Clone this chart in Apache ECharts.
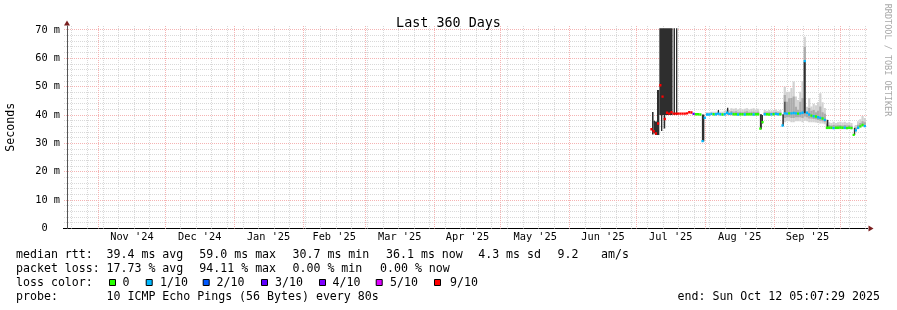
<!DOCTYPE html>
<html><head><meta charset="utf-8">
<script src="https://cdn.jsdelivr.net/npm/echarts@6/dist/echarts.min.js"></script>
<style>html,body{margin:0;padding:0;background:#fff}#c{width:897px;height:310px}</style>
</head><body><div id="c"></div>
<script>
// ---- time frame: 360-day window, day 0 = window start ----
const START = Date.UTC(2024, 9, 17, 19, 0);
const DAY = 86400000;
const WINDOW_DAYS = 360;
const Y_MAX = 71.4; // ms

// ---- samples (one per day, starting at firstDay) ----
const firstDay = 263;
const median = [
 35.0,34.3,33.5,37.0,50.5,46.5,38.6,40.8,40.5,41.0,
 40.5,40.5,40.5,40.5,40.5,40.5,40.6,41.0,40.9,40.4,
 40.3,40.3,40.2,30.8,39.0,40.2,40.2,40.4,40.3,40.3,
 40.5,40.3,40.2,40.3,40.8,40.4,40.5,40.3,40.3,40.2,
 40.3,40.3,40.2,40.3,40.3,40.3,40.2,40.3,40.3,35.2,
 37.5,40.3,40.3,40.2,40.3,40.3,40.4,40.3,40.3,36.3,
 40.6,40.5,40.6,40.6,40.7,40.6,40.5,40.6,40.8,59.0,
 40.8,40.2,39.8,39.6,39.5,39.2,39.0,38.8,38.3,35.5,
 35.5,35.5,35.4,35.5,35.5,35.6,35.5,35.5,35.4,35.5,
 35.4,33.0,34.6,35.5,36.0,36.5,36.1
];
// loss class index into lossColors
const lossIdx = [
 6,6,6,6,6,6,6,6,6,6,
 6,6,6,6,6,6,6,6,6,3,
 0,0,0,1,1,1,1,1,0,1,
 1,1,0,1,1,1,1,0,0,1,
 0,0,1,0,0,0,1,0,0,0,
 0,1,0,0,1,0,1,1,0,1,
 1,1,0,1,1,1,0,1,1,1,
 1,1,0,1,0,1,1,0,1,0,
 0,0,1,0,0,0,0,1,0,0,
 0,0,1,1,0,0,1
];
const N = null;
const smokeLo = [
 N,N,N,N,N,N,N,N,N,N, N,N,N,N,N,N,N,N,N,N,
 N,N,N,N,N,39.9,39.9,39.9,39.9,39.9,
 39.9,39.9,39.9,39.9,39.9,39.9,39.8,39.8,39.8,39.8,
 39.8,39.8,39.8,39.8,39.8,39.8,39.8,39.8,39.8,N,
 N,39.8,39.8,39.8,39.8,39.8,39.8,39.8,39.8,N,
 37.5,37.8,37.8,37.5,37.5,37.8,37.8,37.8,37.5,38.0,
 37.8,37.5,37.5,37.5,37.4,37.2,37.0,37.0,36.8,35.0,
 35.0,35.0,35.0,35.0,35.0,35.0,35.0,35.0,35.0,35.0,
 35.0,N,34.2,35.0,35.5,36.0,35.8
];
const smokeHi = [
 N,N,N,N,N,N,N,N,N,N, N,N,N,N,N,N,N,N,N,N,
 N,N,N,N,N,41.0,41.0,41.2,41.2,41.2,
 41.5,41.2,41.2,41.5,42.0,41.8,42.4,42.2,42.4,42.0,
 42.4,42.0,42.2,42.4,42.0,42.2,42.4,42.0,42.2,N,
 N,41.8,41.5,41.8,41.5,41.8,42.0,41.5,41.8,N,
 50.0,48.2,48.2,49.5,51.8,46.5,45.3,48.2,52.0,67.6,
 42.9,45.9,43.0,44.0,43.5,44.5,47.7,44.5,42.5,38.5,
 37.5,37.2,37.6,37.2,37.5,37.6,37.4,37.6,37.3,37.5,
 37.2,N,36.5,37.8,38.5,39.7,39.0
];
const coreLo = [
 N,N,N,N,N,N,N,N,N,N, N,N,N,N,N,N,N,N,N,N,
 N,N,N,N,N,N,N,N,N,N, N,N,N,N,N,N,40.0,40.0,40.0,40.0,
 40.0,40.0,40.0,40.0,40.0,40.0,40.0,40.0,40.0,N,
 N,40.0,40.0,40.0,40.0,40.0,40.0,40.0,40.0,N,
 39.0,39.2,39.2,39.0,39.0,39.2,39.2,39.2,39.0,39.5,
 39.2,38.8,38.8,38.6,38.5,38.3,38.0,37.8,37.5,35.2,
 35.2,35.2,35.2,35.2,35.2,35.2,35.2,35.2,35.2,35.2,
 35.2,N,34.4,35.2,35.8,36.3,36.0
];
const coreHi = [
 N,N,N,N,N,N,N,N,N,N, N,N,N,N,N,N,N,N,N,N,
 N,N,N,N,N,N,N,N,N,N, N,N,N,N,N,N,41.4,41.2,41.3,41.0,
 41.2,41.0,41.2,41.3,41.0,41.2,41.2,41.0,41.2,N,
 N,41.0,40.9,41.0,40.9,41.0,41.1,40.9,41.0,N,
 47.1,44.7,45.9,46.0,46.5,42.9,41.9,44.7,46.0,64.1,
 41.2,42.5,41.5,41.8,41.0,41.5,43.0,41.0,40.5,37.0,
 36.5,36.3,36.5,36.3,36.4,36.5,36.3,36.5,36.3,36.4,
 36.2,N,35.6,36.6,37.2,37.8,37.5
];
// dense (dark) smoke bars: start day, end day, low, high
const darkStart = [263.25,263.95,264.6,265.5,266.55,267.3,268.5,272.95,274.05,285.7,292.9,297.0,311.8,312.7,321.9,322.8,331.5,341.9,354.1];
const darkEnd   = [263.95,264.6,265.5,266.55,272.5,267.9,269.2,273.6,274.65,286.8,293.4,297.6,312.7,313.2,322.6,323.3,332.4,342.6,354.7];
const darkLo    = [33.1,33.5,33.0,33.0,40.0,34.4,35.3,40.0,40.0,30.7,40.3,40.3,35.0,37.0,36.1,40.6,40.6,35.5,33.0];
const darkHi    = [41.1,38.0,37.7,48.8,70.6,40.0,40.0,70.6,70.6,40.2,41.8,42.6,40.3,40.0,40.3,44.7,58.8,38.3,35.5];

const lossColors = ['#26ff00','#00b8ff','#0059ff','#5e00ff','#7e00ff','#dd00ff','#ff0000'];
const lossLabels = ['0','1/10','2/10','3/10','4/10','5/10','9/10'];
const yMajor = [10,20,30,40,50,60,70];
const yMinor = [2,4,6,8,12,14,16,18,22,24,26,28,32,34,36,38,42,44,46,48,52,54,56,58,62,64,66,68];
const monthLabels = ["Nov '24","Dec '24","Jan '25","Feb '25","Mar '25","Apr '25","May '25","Jun '25","Jul '25","Aug '25","Sep '25"];

// ---- derived ----
const toDay = ms => (ms - START) / DAY;
const monthStarts = [];
for (let k = 0; k < 12; k++) monthStarts.push(toDay(Date.UTC(2024, 10 + k, 1)));
const monthMids = monthLabels.map((_, i) => (monthStarts[i] + monthStarts[i + 1]) / 2);
const weekLines = [];
for (let t = toDay(Date.UTC(2024, 9, 20)); t < WINDOW_DAYS; t += 7) weekLines.push(t);

const MONO = '"DejaVu Sans Mono", monospace';

function vLine(color, dash) {
  return function (params, api) {
    const x = Math.floor(api.coord([api.value(0), 0])[0]) + 0.5;
    const cs = params.coordSys;
    return { type: 'line', shape: { x1: x, y1: cs.y, x2: x, y2: cs.y + cs.height }, style: { stroke: color, lineWidth: 1, lineDash: dash } };
  };
}
function hLine(color, dash) {
  return function (params, api) {
    const y = Math.floor(api.coord([0, api.value(1)])[1]) + 0.5;
    const cs = params.coordSys;
    return { type: 'line', shape: { x1: cs.x - 3, y1: y, x2: cs.x + cs.width, y2: y }, style: { stroke: color, lineWidth: 1, lineDash: dash } };
  };
}
function band(color) {
  return function (params, api) {
    const a = api.coord([api.value(0), api.value(3)]);
    const b = api.coord([api.value(1), api.value(2)]);
    return { type: 'rect', shape: { x: a[0], y: a[1], width: b[0] - a[0], height: b[1] - a[1] }, style: { fill: color } };
  };
}
const smokeData = [], coreData = [], medData = [], darkData = [];
median.forEach((m, i) => {
  const d = firstDay + i;
  if (smokeLo[i] != null) smokeData.push([d - 0.5, d + 0.5, smokeLo[i], smokeHi[i]]);
  if (coreLo[i] != null) coreData.push([d - 0.5, d + 0.5, coreLo[i], coreHi[i]]);
  medData.push([d - 0.5, d + 0.5, m, lossIdx[i]]);
});
darkStart.forEach((s, i) => darkData.push([s, darkEnd[i], darkLo[i], darkHi[i]]));

const chart = echarts.init(document.getElementById('c'), null, { renderer: 'canvas' });
const legendY = [254.5, 268.5, 282.5, 296.5];
const txt = (s, x, y, extra) => Object.assign({ type: 'text', x: x, y: y, silent: true, style: Object.assign({ text: s, fontFamily: MONO, fontSize: 11.6, fill: '#000', align: 'left', verticalAlign: 'middle' }, extra || {}) });
const graphics = [
  txt('median rtt:', 16, legendY[0]), txt('39.4 ms avg', 106.5, legendY[0]), txt('59.0 ms max', 199.3, legendY[0]),
  txt('30.7 ms min', 292.5, legendY[0]), txt('36.1 ms now', 386, legendY[0]), txt('4.3 ms sd', 478.2, legendY[0]),
  txt('9.2', 557.5, legendY[0]), txt('am/s', 601, legendY[0]),
  txt('packet loss:', 16, legendY[1]), txt('17.73 % avg', 106.5, legendY[1]), txt('94.11 % max', 199.3, legendY[1]),
  txt('0.00 % min', 292.5, legendY[1]), txt('0.00 % now', 380, legendY[1]),
  txt('loss color:', 16, legendY[2]),
  txt('probe:', 16, legendY[3]), txt('10 ICMP Echo Pings (56 Bytes) every 80s', 106.5, legendY[3]),
  txt('end: Sun Oct 12 05:07:29 2025', 677.5, legendY[3]),
  txt('RRDTOOL / TOBI OETIKER', 887.5, 60, { fontSize: 8.5, fill: '#a8a8a8', align: 'center' }),
  // axis arrows
  { type: 'polygon', silent: true, shape: { points: [[64, 25.5], [70, 25.5], [67, 20.5]] }, style: { fill: '#7a1f1f' } },
  { type: 'polygon', silent: true, shape: { points: [[868.5, 225.5], [868.5, 231.5], [873.5, 228.5]] }, style: { fill: '#7a1f1f' } },
  { type: 'line', silent: true, shape: { x1: 63, y1: 228.5, x2: 868, y2: 228.5 }, style: { stroke: '#000', lineWidth: 1 } }
];
graphics[17].rotation = -Math.PI / 2;
const boxX = [109, 145.7, 202.7, 261, 319, 375.7, 434];
const labX = [122.5, 160, 216.6, 275, 332.6, 390, 450];
lossColors.forEach((c, i) => {
  graphics.push({ type: 'rect', silent: true, shape: { x: boxX[i] + 0.5, y: 279.5, width: 6, height: 6 }, style: { fill: c, stroke: '#000', lineWidth: 1 } });
  graphics.push(txt(lossLabels[i], labX[i], legendY[2]));
});

chart.setOption({
  animation: false,
  backgroundColor: '#fff',
  title: { text: 'Last 360 Days', left: 'center', top: 12, textStyle: { fontFamily: MONO, fontSize: 13.4, fontWeight: 'normal', color: '#000' } },
  grid: { left: 67, right: 30, top: 26, bottom: 81.5, containLabel: false, outerBoundsMode: 'none' },
  xAxis: {
    type: 'value', min: 0, max: WINDOW_DAYS,
    axisLine: { show: false },
    axisTick: { show: false },
    splitLine: { show: false },
    axisLabel: {
      customValues: monthMids, margin: 4,
      fontFamily: MONO, fontSize: 10.3, color: '#000',
      formatter: v => { let k = 0, best = 1e9; monthMids.forEach((m, i) => { const e = Math.abs(m - v); if (e < best) { best = e; k = i; } }); return monthLabels[k]; }
    }
  },
  yAxis: {
    type: 'value', min: 0, max: Y_MAX, interval: 10,
    name: 'Seconds', nameLocation: 'middle', nameGap: 50,
    nameTextStyle: { fontFamily: MONO, fontSize: 11.6, color: '#000' },
    axisLine: { show: true, lineStyle: { color: '#555', width: 1 } },
    axisTick: { show: false },
    splitLine: { show: false },
    axisLabel: {
      margin: 7, fontFamily: MONO, fontSize: 10.3, color: '#000',
      formatter: v => (v % 10 === 0 ? (v === 0 ? '0  ' : v + ' m') : '')
    }
  },
  graphic: graphics,
  series: [
    { type: 'custom', silent: true, z: 1, clip: false, data: yMinor.map(v => [0, v]), renderItem: hLine('#d9d9d9', [1, 1]) },
    { type: 'custom', silent: true, z: 1, clip: false, data: weekLines.map(v => [v, 0]), renderItem: vLine('#d9d9d9', [1, 1]) },
    { type: 'custom', silent: true, z: 1, clip: false, data: yMajor.map(v => [0, v]), renderItem: hLine('#f5b3b3', [1, 1]) },
    { type: 'custom', silent: true, z: 1, clip: false, data: monthStarts.map(v => [v, 0]), renderItem: vLine('#f5b3b3', [1, 1]) },
    { type: 'custom', name: 'smoke', silent: true, z: 2, clip: true, encode: { x: [0, 1], y: [2, 3] }, data: smokeData, renderItem: band('#d2d2d2') },
    { type: 'custom', name: 'smoke core', silent: true, z: 3, clip: true, encode: { x: [0, 1], y: [2, 3] }, data: coreData, renderItem: band('#ababab') },
    { type: 'custom', name: 'dense smoke', silent: true, z: 4, clip: true, encode: { x: [0, 1], y: [2, 3] }, data: darkData, renderItem: band('#2e2e2e') },
    { type: 'custom', name: 'median rtt', silent: true, z: 5, clip: true, encode: { x: [0, 1], y: 2 }, data: medData,
      renderItem: function (params, api) {
        const a = api.coord([api.value(0), api.value(2)]);
        const b = api.coord([api.value(1), api.value(2)]);
        return { type: 'rect', shape: { x: a[0], y: a[1] - 1.2, width: b[0] - a[0], height: 2.4 }, style: { fill: lossColors[api.value(3)] } };
      } }
  ]
});
</script></body></html>
